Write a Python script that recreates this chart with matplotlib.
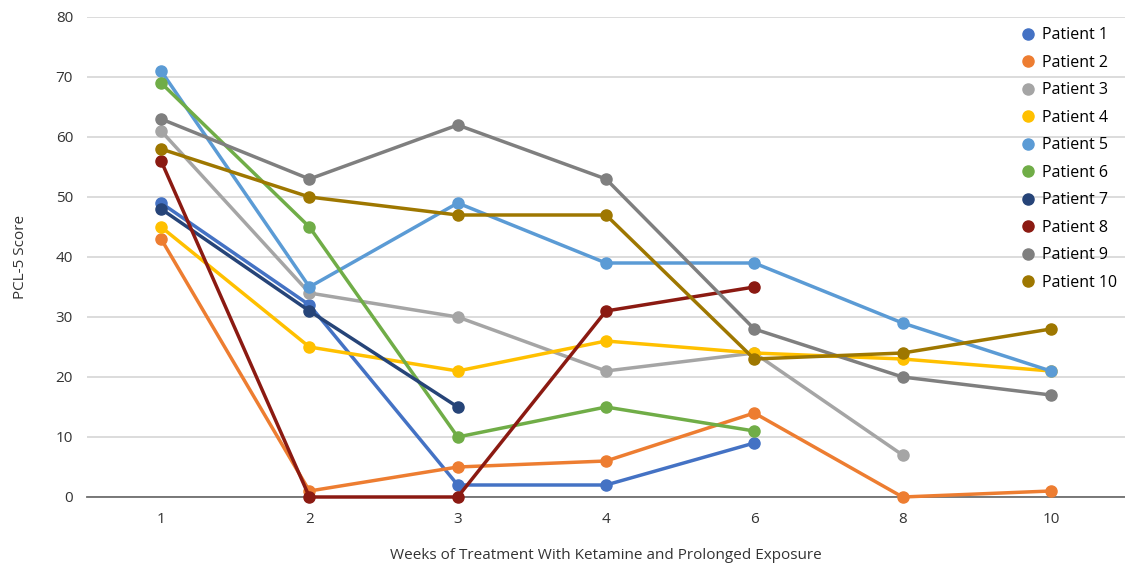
import numpy as np
import matplotlib.pyplot as plt
from matplotlib.lines import Line2D

# weeks shown as evenly spaced categories
weeks = ["1", "2", "3", "4", "6", "8", "10"]

# PCL-5 scores per patient (None = no measurement)
p1 = [49, 32, 2, 2, 9, None, None]
p2 = [43, 1, 5, 6, 14, 0, 1]
p3 = [61, 34, 30, 21, 24, 7, None]
p4 = [45, 25, 21, 26, 24, 23, 21]
p5 = [71, 35, 49, 39, 39, 29, 21]
p6 = [69, 45, 10, 15, 11, None, None]
p7 = [48, 31, 15, None, None, None, None]
p8 = [56, 0, 0, 31, 35, None, None]
p9 = [63, 53, 62, 53, 28, 20, 17]
p10 = [58, 50, 47, 47, 23, 24, 28]

patients = [p1, p2, p3, p4, p5, p6, p7, p8, p9, p10]
names = ["Patient %d" % (i + 1) for i in range(10)]
colors = ["#4472C4", "#ED7D31", "#A5A5A5", "#FFC000", "#5B9BD5",
          "#70AD47", "#264478", "#8B1A12", "#7F7F7F", "#9E7700"]

plt.rcParams['font.family'] = ['Open Sans', 'DejaVu Sans']

fig = plt.figure(figsize=(11.25, 5.65), dpi=100)
ax = fig.add_axes([87 / 1125, 68 / 565, 1038 / 1125, 480 / 565])

x = np.arange(len(weeks))
for vals, name, c in zip(patients, names, colors):
    y = np.array([np.nan if v is None else v for v in vals], dtype=float)
    ax.plot(x, y, color=c, lw=2.5, marker='o', ms=8, label=name,
            clip_on=False, zorder=3)

ax.set_xlim(-0.5, len(weeks) - 0.5)
ax.set_ylim(0, 80)
ax.set_yticks(range(0, 81, 10))
ax.set_xticks(x)
ax.set_xticklabels(weeks)
ax.tick_params(length=0, labelsize=11, colors='#333333')
ax.tick_params(axis='y', pad=10)
ax.tick_params(axis='x', pad=11)
ax.grid(axis='y', color='#D9D9D9', lw=1.3)
ax.set_axisbelow(True)
for s in ['top', 'right', 'left']:
    ax.spines[s].set_visible(False)
ax.spines['bottom'].set_color('#6E6E6E')
ax.spines['bottom'].set_linewidth(1.3)

ax.set_xlabel("Weeks of Treatment With Ketamine and Prolonged Exposure",
              fontsize=11, color='#333333', labelpad=15)
ax.set_ylabel("PCL-5 Score", fontsize=11, color='#333333', labelpad=20)

handles = [Line2D([], [], ls='none', marker='o', ms=8, color=c) for c in colors]
ax.legend(handles, names, loc='upper right', bbox_to_anchor=(1.0, 0.995),
          frameon=False, fontsize=11.5, handletextpad=0.3, labelspacing=0.72,
          handlelength=1.2, borderaxespad=0.1)

fig.savefig("out.png", dpi=100)
